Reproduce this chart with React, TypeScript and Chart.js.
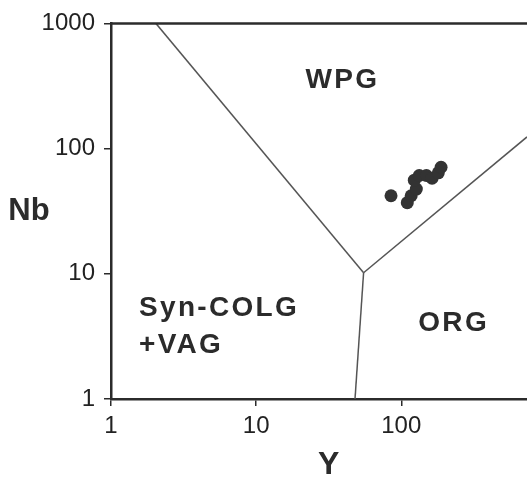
import React, { useEffect, useRef } from 'react';
import { Chart, registerables } from 'chart.js';

Chart.register(...registerables);

// Sample data: Y (ppm) and Nb (ppm)
const sampleY = [85, 110, 117, 127, 123, 133, 149, 163, 180, 188];
const sampleNb = [42, 37, 42, 47.5, 56, 61, 61, 58, 64, 71];

// Discrimination boundaries (Y, Nb)
const upperLeftY = [2.04, 55];
const upperLeftNb = [1000, 10.2];
const lowerY = [55, 48];
const lowerNb = [10.2, 1];
const rightY = [55, 735];
const rightNb = [10.2, 124];

// Tick values
const xTicks = [1, 10, 100];
const yTicks = [1, 10, 100, 1000];
const xMin = 1;
const xMax = 735;
const yMin = 1;
const yMax = 1000;

// Field labels (left / baseline anchored in data coordinates)
const fieldNames = ['WPG', 'Syn-COLG', '+VAG', 'ORG'];
const fieldY = [21.9, 1.56, 1.56, 131];
const fieldNb = [307, 4.59, 2.34, 3.49];

const FONT = "'Liberation Sans', Arial, Helvetica, sans-serif";
const INK = '#2b2b2b';

const toPts = (xs: number[], ys: number[]) => xs.map((x, i) => ({ x, y: ys[i] }));

const overlayPlugin = {
  id: 'overlay',
  afterDraw(chart: any) {
    const { ctx, chartArea, scales } = chart;
    const xs = scales.x;
    const ys = scales.y;
    ctx.save();
    // top frame line
    ctx.strokeStyle = INK;
    ctx.lineWidth = 2.5;
    ctx.beginPath();
    ctx.moveTo(chartArea.left - 1, chartArea.top);
    ctx.lineTo(chart.width, chartArea.top);
    ctx.stroke();

    // field labels
    ctx.fillStyle = INK;
    ctx.font = `bold 28px ${FONT}`;
    ctx.textAlign = 'left';
    ctx.textBaseline = 'alphabetic';
    (ctx as any).letterSpacing = '2.3px';
    fieldNames.forEach((name, i) => {
      ctx.fillText(name, xs.getPixelForValue(fieldY[i]), ys.getPixelForValue(fieldNb[i]));
    });
    (ctx as any).letterSpacing = '0px';

    // axis titles
    ctx.font = `bold 31px ${FONT}`;
    ctx.textAlign = 'center';
    ctx.textBaseline = 'middle';
    ctx.fillText('Nb', 29, (chartArea.top + chartArea.bottom) / 2);
    ctx.font = `bold 32px ${FONT}`;
    ctx.fillText('Y', xs.getPixelForValue(Math.sqrt(1000)), 465);
    ctx.restore();
  },
};

export default function App() {
  const ref = useRef<HTMLCanvasElement>(null);
  useEffect(() => {
    if (!ref.current) return;
    const lineStyle = {
      showLine: true,
      pointRadius: 0,
      borderColor: '#555',
      borderWidth: 1.5,
      fill: false,
    };
    const chart = new Chart(ref.current, {
      type: 'scatter',
      data: {
        datasets: [
          { ...lineStyle, data: toPts(upperLeftY, upperLeftNb) },
          { ...lineStyle, data: toPts(lowerY, lowerNb) },
          { ...lineStyle, data: toPts(rightY, rightNb) },
          {
            data: toPts(sampleY, sampleNb),
            pointRadius: 6.5,
            pointBackgroundColor: '#333',
            pointBorderColor: '#333',
            pointBorderWidth: 0,
            showLine: false,
          },
        ],
      },
      options: {
        animation: false,
        responsive: false,
        layout: { autoPadding: false, padding: { top: 18, right: 0, left: 0, bottom: 0 } },
        plugins: { legend: { display: false }, tooltip: { enabled: false } },
        scales: {
          x: {
            type: 'logarithmic',
            min: xMin,
            max: xMax,
            afterBuildTicks: (s: any) => {
              s.ticks = xTicks.map((v) => ({ value: v }));
            },
            afterFit: (s: any) => {
              s.height = 83;
              s.paddingLeft = 0;
              s.paddingRight = 0;
            },
            ticks: {
              autoSkip: false,
              maxRotation: 0,
              padding: 6,
              color: '#222',
              font: { family: FONT, size: 24 },
              callback: (v: any) => String(v),
            },
            grid: {
              display: true,
              drawOnChartArea: false,
              drawTicks: true,
              tickLength: 7,
              color: INK,
              lineWidth: 1.5,
            },
            border: { display: true, color: INK, width: 2.5 },
          },
          y: {
            type: 'logarithmic',
            min: yMin,
            max: yMax,
            afterBuildTicks: (s: any) => {
              s.ticks = yTicks.map((v) => ({ value: v }));
            },
            afterFit: (s: any) => {
              s.width = 111;
            },
            ticks: {
              autoSkip: false,
              padding: 9,
              color: '#222',
              font: { family: FONT, size: 24 },
              callback: (v: any) => String(v),
            },
            grid: {
              display: true,
              drawOnChartArea: false,
              drawTicks: true,
              tickLength: 7,
              color: INK,
              lineWidth: 1.5,
            },
            border: { display: true, color: INK, width: 2.5 },
          },
        },
      },
      plugins: [overlayPlugin],
    } as any);
    return () => chart.destroy();
  }, []);
  return (
    <div style={{ position: 'absolute', left: 0, top: 0, width: 527, height: 482 }}>
      <canvas ref={ref} width={527} height={482} />
    </div>
  );
}
